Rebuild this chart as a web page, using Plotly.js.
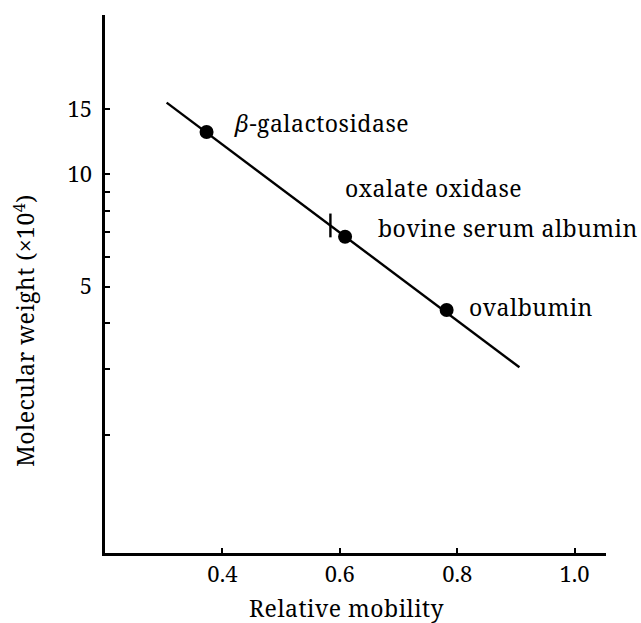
<!DOCTYPE html>
<html>
<head>
<meta charset="utf-8">
<script src="https://cdn.plot.ly/plotly-3.0.1.min.js"></script>
<style>
  html, body { margin: 0; padding: 0; background: #fff; }
  #chart { width: 641px; height: 623px; }
  .annotation-text { letter-spacing: 0.5px; }
</style>
</head>
<body>
<div id="chart"></div>
<script>
// Standard proteins (relative mobility vs molecular weight, ×10^4)
const proteins = ['<i>β</i>-galactosidase', 'bovine serum albumin', 'ovalbumin'];
const mobility = [0.373, 0.609, 0.782];
const molWeight = [13.0, 6.81, 4.33];

// Calibration line end points
const fitMobility = [0.305, 0.906];
const fitWeight = [15.58, 3.04];

// Oxalate oxidase position on the line
const oxalateMobility = [0.584];
const oxalateWeight = [7.30];
const oxalateLabel = 'oxalate oxidase';

// Axis ticks
const xTickVals = [0.4, 0.6, 0.8, 1.0];
const xTickText = ['0.4', '0.6', '0.8', '1.0'];
const yTickVals = [5, 10, 15];
const yTickText = ['5', '10', '15'];
const yMinorVals = [2, 3, 4, 6, 7, 8, 9];

const FONT = 'Noto Serif';
const lg = v => Math.log10(v);

const traces = [
  {
    x: fitMobility, y: fitWeight, mode: 'lines', type: 'scatter',
    line: { color: '#000', width: 2.4 }, hoverinfo: 'skip', showlegend: false
  },
  {
    x: mobility, y: molWeight, mode: 'markers', type: 'scatter',
    marker: { color: '#000', size: 14, symbol: 'circle' }, showlegend: false
  },
  {
    x: oxalateMobility, y: oxalateWeight, mode: 'markers', type: 'scatter',
    marker: { symbol: 'line-ns', size: 17, color: '#000', line: { color: '#000', width: 2.4 } },
    showlegend: false
  }
];

const labelFont = { family: FONT, size: 23, color: '#000' };
const annotations = [
  { x: 0.416, y: lg(13.7), text: proteins[0] },
  { x: 0.6055, y: lg(9.2), text: oxalateLabel },
  { x: 0.662, y: lg(7.19), text: proteins[1] },
  { x: 0.816, y: lg(4.42), text: proteins[2] }
].map(a => Object.assign(a, {
  xref: 'x', yref: 'y', xanchor: 'left', yanchor: 'middle',
  showarrow: false, font: labelFont
}));

annotations.push({
  xref: 'paper', yref: 'paper', x: 0.482, y: -0.103,
  xanchor: 'center', yanchor: 'middle', showarrow: false,
  text: 'Relative mobility', font: labelFont
});
annotations.push({
  xref: 'paper', yref: 'paper', x: -0.16, y: 0.4145,
  xanchor: 'center', yanchor: 'middle', showarrow: false, textangle: -90,
  text: 'Molecular weight (×10<sup>4</sup>)', font: labelFont
});

const tickFont = { family: FONT, size: 22, color: '#000' };

const layout = {
  width: 641, height: 623,
  margin: { l: 105, r: 35, t: 15, b: 70 },
  paper_bgcolor: '#fff', plot_bgcolor: '#fff',
  showlegend: false,
  font: { family: FONT, size: 22, color: '#000' },
  xaxis: {
    range: [0.2, 1.0535],
    showgrid: false, zeroline: false,
    showline: true, linecolor: '#000', linewidth: 2.6,
    ticks: 'inside', ticklen: 5, tickwidth: 2, tickcolor: '#000',
    tickvals: xTickVals, ticktext: xTickText,
    ticklabelstandoff: 0,
    tickfont: tickFont
  },
  yaxis: {
    type: 'log',
    range: [lg(0.966), 1.4276],
    showgrid: false, zeroline: false,
    showline: true, linecolor: '#000', linewidth: 2.6,
    ticks: 'inside', ticklen: 5, tickwidth: 2, tickcolor: '#000',
    tickvals: yTickVals, ticktext: yTickText,
    ticklabelstandoff: 6,
    tickfont: tickFont,
    minor: {
      tickvals: yMinorVals, ticks: 'inside', ticklen: 5, tickwidth: 2,
      tickcolor: '#000', showgrid: false
    }
  },
  annotations: annotations
};

Plotly.newPlot('chart', traces, layout, { displayModeBar: false, staticPlot: true });
</script>
</body>
</html>
